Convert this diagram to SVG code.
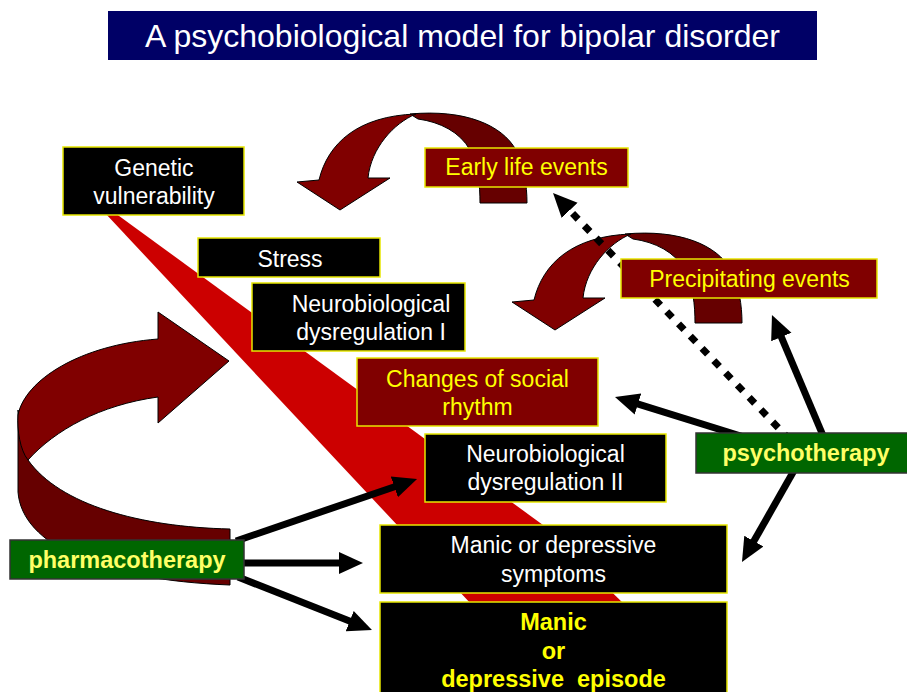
<svg xmlns="http://www.w3.org/2000/svg" xmlns:xlink="http://www.w3.org/1999/xlink" width="907" height="692" viewBox="0 0 907 692">
<style>
text{font-family:"Liberation Sans",Arial,sans-serif;text-anchor:middle}
.t{font-size:23px;fill:#ffffff}
.ty{font-size:23px;fill:#ffff00}
.tb{font-size:23.5px;font-weight:bold;fill:#ffff66}
.te{font-size:23.5px;font-weight:bold;fill:#ffff00}
.bk{fill:#000000;stroke:#e6e600;stroke-width:1.5}
.dr{fill:#800000;stroke:#e6e600;stroke-width:1.5}
.gr{fill:#006600;stroke:#333333;stroke-width:1.5}
.front{fill:#800000;stroke:#000;stroke-width:1}
.back{fill:#660000;stroke:#000;stroke-width:1}
.ln{stroke:#000;stroke-width:7;fill:none;marker-end:url(#head)}
.dot{stroke:#000;stroke-width:7;fill:none;stroke-dasharray:8 9;marker-end:url(#head)}
</style>
<defs>
<marker id="head" viewBox="0 0 24 24" markerUnits="userSpaceOnUse" markerWidth="24" markerHeight="24" refX="8" refY="12" orient="auto">
<path d="M0,1 L24,12 L0,23 Z" fill="#000"/>
</marker>
<g id="curvedDown">
<path class="back" d="M410,114 C465,109 502,125 516,150 C524,166 527,185 527,203 L480,203 C480,185 478,165 470,150 C460,132 440,122 418,119 Z"/>
<path class="front" d="M297,182 L319,180 C328,143 358,116 416,114 C394,123 371,148 368,178 L390,178 L340,210 Z"/>
</g>
</defs>
<rect width="907" height="692" fill="#ffffff"/>

<g id="title">
<rect x="108" y="11" width="709" height="49" fill="#000066"/>
<text x="462.5" y="47" style="font-size:32px;fill:#ffffff">A psychobiological model for bipolar disorder</text>
</g>

<g id="vulnerability-wedge">
<polygon points="105,213 115,213 543,525 625,605 472,605" fill="#cc0000"/>
</g>

<g id="connectors">
<g id="curved-early-to-genetic"><use xlink:href="#curvedDown"/></g>
<g id="curved-precipitating-to-neuro1"><use xlink:href="#curvedDown" transform="translate(215,120)"/></g>
<g id="curved-pharmacotherapy">
<path class="back" d="M18,410 L18,492 C22,545 100,580 230,585 L230,529 C140,527 60,505 28,460 Z"/>
<path class="front" d="M158,339 L158,312 L229,361 L158,423 L158,397 C100,405 55,430 28,460 C20,450 17,430 18,415 C25,380 80,345 158,339 Z"/>
</g>
<line class="dot" x1="790" y1="440" x2="564.1" y2="204.6"/>
<line class="ln" x1="236" y1="541" x2="401.9" y2="484.2"/>
<line class="ln" x1="240" y1="563" x2="347" y2="563"/>
<line class="ln" x1="238" y1="577" x2="357.1" y2="624.1"/>
<line class="ln" x1="760" y1="442" x2="630.3" y2="401.7"/>
<line class="ln" x1="827" y1="445" x2="778.2" y2="329.7"/>
<line class="ln" x1="800" y1="460" x2="749.9" y2="548.1"/>
</g>

<g id="genetic-vulnerability">
<rect class="bk" x="63" y="147" width="181" height="68"/>
<text class="t" x="154" y="176">Genetic</text>
<text class="t" x="154" y="204">vulnerability</text>
</g>
<g id="stress">
<rect class="bk" x="198" y="238" width="182" height="39"/>
<text class="t" x="290" y="267">Stress</text>
</g>
<g id="neuro-dysregulation-1">
<rect class="bk" x="252" y="283" width="213" height="68"/>
<text class="t" x="371" y="312">Neurobiological</text>
<text class="t" x="371" y="340">dysregulation I</text>
</g>
<g id="social-rhythm">
<rect class="dr" x="357" y="358" width="241" height="68"/>
<text class="ty" x="477.5" y="387">Changes of social</text>
<text class="ty" x="477.5" y="415">rhythm</text>
</g>
<g id="neuro-dysregulation-2">
<rect class="bk" x="425" y="434" width="241" height="68"/>
<text class="t" x="545.5" y="462">Neurobiological</text>
<text class="t" x="545.5" y="490">dysregulation II</text>
</g>
<g id="symptoms">
<rect class="bk" x="380" y="525" width="347" height="68"/>
<text class="t" x="553.5" y="553">Manic or depressive</text>
<text class="t" x="553.5" y="582">symptoms</text>
</g>
<g id="episode">
<rect class="bk" x="380" y="602" width="347" height="100"/>
<text class="te" x="553.5" y="630">Manic</text>
<text class="te" x="553.5" y="659">or</text>
<text class="te" x="553.5" y="687" style="white-space:pre">depressive  episode</text>
</g>
<g id="early-life-events">
<rect class="dr" x="425" y="148" width="203" height="39"/>
<text class="ty" x="526.5" y="175">Early life events</text>
</g>
<g id="precipitating-events">
<rect class="dr" x="621" y="259" width="256" height="39"/>
<text class="ty" x="749.5" y="287">Precipitating events</text>
</g>
<g id="psychotherapy">
<rect class="gr" x="696" y="433" width="214" height="40"/>
<text class="tb" x="806" y="461">psychotherapy</text>
</g>
<g id="pharmacotherapy">
<rect class="gr" x="10" y="540" width="234" height="39"/>
<text class="tb" x="127" y="568">pharmacotherapy</text>
</g>
</svg>
